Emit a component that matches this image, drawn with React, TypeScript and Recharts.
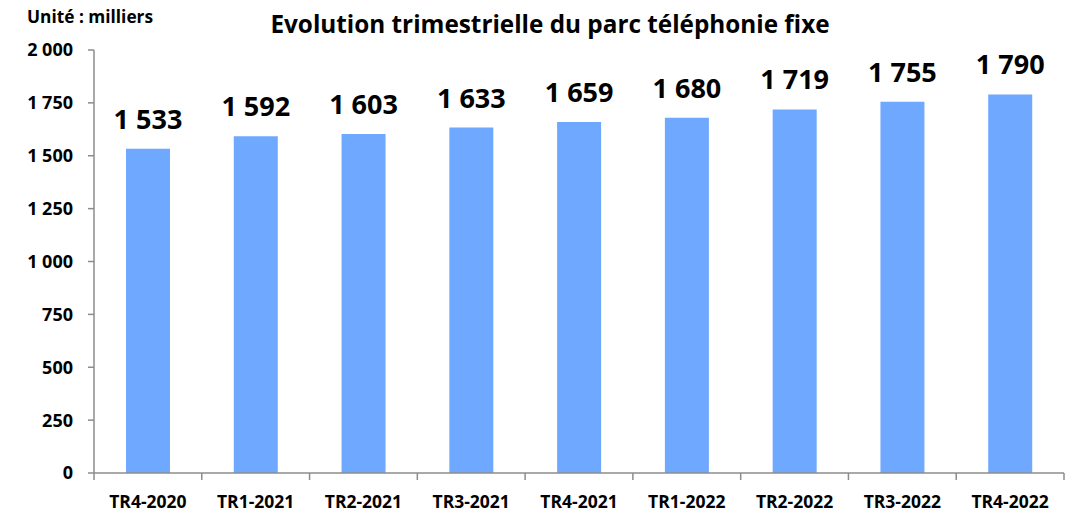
import { BarChart, Bar, XAxis, YAxis, LabelList } from "recharts";

const quarters = [
  "TR4-2020",
  "TR1-2021",
  "TR2-2021",
  "TR3-2021",
  "TR4-2021",
  "TR1-2022",
  "TR2-2022",
  "TR3-2022",
  "TR4-2022",
];
const parcFixe = [1533, 1592, 1603, 1633, 1659, 1680, 1719, 1755, 1790];
const yTicks = [0, 250, 500, 750, 1000, 1250, 1500, 1750, 2000];

const data = quarters.map((q, i) => ({ name: q, value: parcFixe[i] }));

const FONT = "'Open Sans', sans-serif";
const AXIS = "#8c8c8c";

const fmt = (v: number) => String(v).replace(/\B(?=(\d{3})+(?!\d))/g, " ");

const PLOT_LEFT = 94;
const PLOT_RIGHT = 1064;
const BAND = (PLOT_RIGHT - PLOT_LEFT) / quarters.length;

// eslint-disable-next-line @typescript-eslint/no-explicit-any
function CategoryTick({ x, y, payload, index }: any) {
  const isLast = index === quarters.length - 1;
  return (
    <g>
      <line x1={x - BAND / 2} x2={x - BAND / 2} y1={y - 8} y2={y - 1} stroke={AXIS} strokeWidth={1.5} />
      {isLast && (
        <line x1={x + BAND / 2} x2={x + BAND / 2} y1={y - 8} y2={y - 1} stroke={AXIS} strokeWidth={1.5} />
      )}
      <text
        x={x}
        y={y + 27}
        textAnchor="middle"
        fontFamily={FONT}
        fontWeight={700}
        fontSize={17.5}
        fill="#000"
      >
        {payload.value}
      </text>
    </g>
  );
}

export default function App() {
  return (
    <div style={{ position: "absolute", left: 0, top: 0, width: 1073, height: 512, background: "#fff" }}>
      <div
        style={{
          position: "absolute",
          left: 27,
          top: 4,
          fontFamily: FONT,
          fontWeight: 700,
          fontSize: 17.3,
          lineHeight: "26px",
          color: "#000",
        }}
      >
        Unité : milliers
      </div>
      <div
        style={{
          position: "absolute",
          left: 0,
          width: 1100,
          top: 8,
          textAlign: "center",
          fontFamily: FONT,
          fontWeight: 700,
          fontSize: 24.3,
          lineHeight: "32px",
          color: "#000",
        }}
      >
        Evolution trimestrielle du parc téléphonie fixe
      </div>
      <BarChart
        width={1073}
        height={512}
        data={data}
        margin={{ top: 50, right: 1073 - PLOT_RIGHT, left: 0, bottom: 0 }}
      >
        <YAxis
          width={PLOT_LEFT}
          domain={[0, 2000]}
          ticks={yTicks}
          interval={0}
          tickFormatter={fmt}
          axisLine={{ stroke: AXIS, strokeWidth: 1.5 }}
          tickLine={{ stroke: AXIS, strokeWidth: 1.5 }}
          tickSize={6}
          tickMargin={15}
          tick={{ fontFamily: FONT, fontWeight: 700, fontSize: 18, fill: "#000" }}
        />
        <XAxis
          dataKey="name"
          height={39}
          interval={0}
          axisLine={{ stroke: AXIS, strokeWidth: 1.5 }}
          tickLine={false}
          tick={<CategoryTick />}
        />
        <Bar dataKey="value" fill="#6FA8FF" barSize={44} isAnimationActive={false}>
          <LabelList
            dataKey="value"
            position="top"
            offset={20}
            formatter={(v: number) => fmt(v)}
            style={{ fontFamily: FONT, fontWeight: 700, fontSize: 27, fill: "#000" }}
          />
        </Bar>
      </BarChart>
    </div>
  );
}
